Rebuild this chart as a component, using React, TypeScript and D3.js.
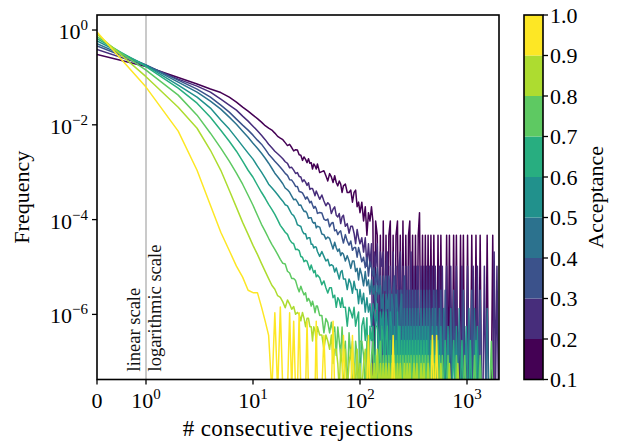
import React from "react";
import * as d3 from "d3";

// Acceptance level of each simulated chain (one histogram per level)
const acceptance = [0.1, 0.2, 0.3, 0.4, 0.5, 0.6, 0.7, 0.8, 0.9];
// Number of rejection runs recorded for each acceptance level (normalisation)
const runsPerLevel = [21400, 96900, 311000, 748000, 1790000, 3550000, 7360000, 10900000, 2780000];

// Run-length bins (# consecutive rejections) at which the histograms are sampled
const rejectionBins = [
  0, 1, 2, 3, 4, 5, 6, 7, 8, 9, 10, 11, 12, 13, 14, 15, 16, 17, 18, 19,
  20, 21, 22, 23, 24, 25, 26, 27, 28, 29, 30, 31, 32, 33, 34, 35, 36, 37, 38, 39, 40,
  42, 44, 46, 48, 50, 52, 54, 56, 58, 60, 62, 64, 66, 68, 70,
  73, 76, 79, 82, 85, 88, 91, 94, 97, 100,
  104, 108, 112, 116, 120, 124, 128, 132, 136, 140,
  145, 150, 155, 160, 165, 170, 175, 180,
  186, 192, 198, 204, 210,
  217, 224, 231, 238, 245, 252,
  260, 268, 276, 284, 292, 300,
  310, 320, 330, 340, 350, 360,
  372, 384, 396, 408, 420,
  433, 446, 460, 475, 490, 505, 520,
  536, 552, 570, 588, 606, 625, 645, 665, 685, 705,
  727, 750, 773, 796, 820, 845, 870, 897, 925, 953, 982,
  1012, 1043, 1075, 1108, 1142, 1177, 1213, 1250, 1288, 1327, 1368, 1410, 1453, 1497,
  1543, 1590, 1638, 1688, 1740, 1793, 1848, 1905, 1963,
];

// Run counts per bin, one array per acceptance level
const counts01 = [
  6510, 3631, 2127, 1549, 1215, 1025, 823, 646, 506, 417, 343, 289, 244, 205, 182, 166, 143, 122, 112, 104,
  90, 78, 83, 71, 60, 64, 63, 50, 49, 38, 45, 40, 34, 41, 33, 34, 25, 32, 29, 25, 32,
  21, 22, 23, 18, 14, 20, 17, 13, 18, 13, 11, 14, 12, 8, 11,
  12, 8, 8, 9, 5, 8, 9, 4, 5, 3,
  5, 2, 4, 1, 3, 2, 4, 2, 0, 2,
  1, 0, 1, 0, 2, 0, 1, 0,
  1, 2, 0, 1, 0,
  1, 2, 0, 1, 0, 2,
  0, 1, 0, 1, 2, 0,
  1, 0, 1, 0, 1, 3,
  0, 1, 0, 1, 0,
  1, 0, 1, 0, 1, 0, 0,
  1, 0, 1, 0, 0, 0, 1, 0, 1, 0,
  0, 1, 0, 1, 0, 0, 1, 0, 1, 0, 0,
  1, 0, 0, 1, 0, 0, 1, 0, 0, 1, 0, 0, 0, 0,
  1, 0, 0, 0, 1, 0,
];
const counts02 = [
  37500, 17200, 8930, 6350, 4750, 3375, 2521, 1977, 1476, 1158, 907, 729, 586, 471, 378, 319, 269, 238, 211, 187,
  161, 149, 120, 123, 107, 91, 95, 79, 77, 61, 67, 60, 51, 58, 42, 44, 44, 37, 31, 39, 34,
  26, 32, 24, 19, 22, 20, 13, 16, 18, 12, 11, 13, 8, 11, 12,
  7, 8, 5, 7, 7, 5, 3, 6, 4, 3,
  4, 2, 4, 1, 3, 1, 3, 0, 2, 1,
  3, 0, 2, 1, 2, 0, 1, 2,
  0, 1, 0, 2, 0,
  1, 0, 1, 2, 0, 1,
  0, 1, 0, 1, 0, 2,
  0, 1, 0, 1, 1, 0,
  1, 0, 1, 0, 1,
  0, 1, 0, 1, 0, 1, 0,
  0, 1, 0, 1, 0, 0, 1, 0, 0, 1,
  0, 0, 0, 1, 0, 0, 0, 1, 0, 0, 0,
  1, 0, 0, 0, 1, 0, 0, 1, 0, 0, 0, 0, 1, 0,
  0, 0, 0, 0, 0, 2, 0, 1, 0,
];
const counts03 = [
  142900, 56750, 27350, 17650, 11960, 8105, 5765, 4103, 3063, 2400, 1884, 1476, 1215, 953, 747, 630, 531, 459, 397, 343,
  294, 267, 216, 212, 185, 156, 156, 122, 119, 114, 99, 84, 94, 82, 70, 76, 63, 54, 59, 53, 42,
  44, 43, 32, 30, 32, 22, 26, 27, 18, 19, 15, 17, 18, 13, 10,
  15, 11, 9, 11, 7, 8, 8, 5, 8, 6,
  4, 5, 3, 5, 2, 4, 3, 2, 3, 1,
  3, 1, 2, 0, 2, 1, 2, 0,
  2, 1, 0, 1, 2,
  0, 1, 0, 1, 1, 0,
  2, 0, 1, 0, 1, 0,
  1, 0, 1, 0, 1, 0,
  1, 0, 1, 0, 1,
  0, 1, 0, 0, 1, 0, 1,
  0, 0, 1, 0, 0, 1, 0, 0, 0, 0,
  0, 1, 0, 0, 0, 0, 0, 0, 1, 0, 0,
  0, 0, 0, 1, 0, 0, 0, 0, 0, 1, 0,
];
const counts04 = [
  387300, 136200, 59570, 36600, 23640, 16010, 10850, 7719, 5492, 4103, 3063, 2400, 1884, 1476, 1158, 907, 712, 600, 506, 427,
  347, 318, 282, 235, 197, 202, 177, 150, 152, 127, 111, 112, 101, 80, 82, 82, 67, 63, 65, 50, 54,
  52, 37, 36, 29, 32, 30, 23, 18, 25, 19, 16, 18, 13, 15, 14,
  10, 13, 10, 7, 10, 10, 6, 7, 4, 7,
  5, 3, 6, 3, 4, 2, 4, 2, 3, 1,
  3, 2, 3, 1, 2, 0, 2, 1,
  2, 0, 2, 1, 0,
  2, 1, 0, 1, 2, 0,
  1, 0, 1, 0, 1, 0,
  1, 0, 1, 0, 1, 0,
  1, 0, 1, 0, 1,
  0, 1, 0, 1, 0, 1, 0,
  0, 1, 0, 0, 1, 0, 0, 0, 0, 1,
  0, 0, 0, 0, 0, 1, 0, 0, 0, 0, 0,
  0, 1, 0, 0, 0, 1, 0, 0, 0, 0, 0, 0, 0, 0,
  1, 0,
];
const counts05 = [
  1051000, 319000, 123600, 68900, 40360, 22510, 14530, 9376, 6353, 4520, 3377, 2400, 1793, 1340, 1001, 844, 712, 600, 506, 438,
  368, 348, 285, 235, 217, 182, 139, 134, 128, 101, 90, 90, 70, 74, 74, 54, 54, 45, 48, 47, 38,
  30, 38, 30, 24, 26, 19, 20, 19, 14, 17, 13, 10, 14, 15, 10,
  10, 6, 10, 8, 5, 9, 6, 6, 3, 6,
  3, 5, 2, 4, 2, 3, 1, 3, 2, 1,
  3, 0, 2, 1, 2, 0, 2, 1,
  0, 2, 1, 0, 1,
  0, 2, 0, 1, 0, 1,
  0, 1, 0, 1, 0, 1,
  0, 1, 0, 1, 0, 1,
  0, 1, 0, 1, 0,
  1, 0, 0, 1, 0, 0, 1,
  0, 0, 1, 0, 0, 0, 0, 1, 0, 0,
  0, 0, 0, 1, 0, 0, 0, 0, 0, 0, 1,
  0, 0, 0, 0, 0, 0, 0, 1, 0,
];
const counts06 = [
  2344000, 600300, 211000, 101700, 51450, 27350, 16010, 9844, 6053, 3906, 2779, 1884, 1340, 1001, 747, 586, 459, 351, 269, 227,
  192, 173, 134, 116, 110, 83, 84, 79, 59, 57, 46, 49, 47, 38, 31, 39, 32, 27, 30, 22, 24,
  21, 15, 18, 13, 10, 13, 13, 8, 9, 5, 8, 7, 5, 8, 5,
  5, 2, 5, 4, 3, 5, 2, 3, 4, 0,
  2, 3, 1, 3, 0, 2, 1, 2, 0, 2,
  2, 1, 0, 2, 1, 0, 1, 2,
  0, 1, 0, 1, 0,
  1, 0, 2, 0, 1, 0,
  1, 0, 1, 0, 1, 0,
  1, 0, 1, 0, 1, 0,
  1, 0, 1, 0, 1,
  0, 0, 1, 0, 1, 0, 0,
  1, 0, 0, 0, 0, 1, 0, 0, 0, 0,
  0, 1, 0, 0, 0, 0, 0, 1, 0, 0, 0,
  0, 0, 1, 0, 0, 0, 1, 0,
];
const counts07 = [
  5360000, 1051000, 311300, 117700, 49020, 23640, 12560, 7004, 4103, 2400, 1476, 907, 586, 417, 297, 221, 174, 136, 107, 88,
  85, 60, 55, 42, 42, 38, 28, 22, 29, 23, 19, 21, 14, 16, 14, 11, 14, 11, 8, 11, 11,
  7, 7, 3, 6, 5, 3, 5, 3, 4, 1, 4, 2, 1, 4, 1,
  2, 0, 3, 1, 2, 0, 2, 1, 0, 2,
  2, 1, 0, 2, 1, 0, 1, 2, 0, 1,
  0, 1, 2, 0, 1, 0, 1, 0,
  1, 0, 1, 0, 1,
  0, 1, 0, 1, 0, 1,
  0, 1, 0, 1, 0, 1,
  0, 1, 0, 1, 0, 1,
  0, 1, 0, 1, 0,
  1, 0, 1, 0, 0, 1, 0,
  0, 1, 0, 1, 0, 0, 0, 1, 0, 0,
  0, 0, 0, 1, 0, 0, 0, 0, 0, 1, 0,
  0, 0, 0, 0, 0, 1, 0, 0, 0, 1, 0, 0, 0, 0,
  0, 0, 0, 2, 0,
];
const counts08 = [
  8930000, 1130000, 256300, 92260, 31640, 11960, 4520, 1977, 953, 531, 311, 201, 130, 88, 62, 45, 37, 27, 25, 20,
  15, 22, 18, 14, 16, 11, 12, 11, 8, 12, 9, 6, 9, 9, 6, 6, 3, 6, 5, 3, 6,
  4, 4, 2, 4, 3, 2, 4, 1, 2, 2, 1, 0, 2, 1, 0,
  2, 0, 1, 2, 0, 1, 0, 2, 0, 1,
  0, 1, 2, 0, 1, 0, 1, 0, 1, 0,
  2, 0, 1, 0, 1, 0, 1, 0,
  1, 0, 1, 0, 1,
  0, 1, 0, 1, 0, 0,
  1, 0, 1, 0, 1, 0,
  0, 1, 0, 1, 0, 0,
  1, 0, 1, 0, 0,
  1, 0, 0, 0, 1, 0, 0,
  0, 0, 1, 0, 0, 0, 0, 0, 1, 0,
  0, 0, 0, 0, 1, 0, 0,
];
const counts09 = [
  2520000, 173700, 20420, 3063, 558, 150, 62, 29, 17, 9, 8, 8, 4, 2, 1, 0, 3, 0, 4, 0,
  0, 0, 3, 0, 2, 0, 0, 3, 0, 0, 0, 0, 2, 0, 0, 0, 0, 0, 0, 2, 0,
  0, 0, 1, 0, 0, 0, 0, 2, 0, 0, 0, 0, 0, 0, 1,
  0, 0, 0, 0, 1, 0, 0, 0, 0, 0,
  0, 0, 0, 0, 1, 0, 0, 0, 0, 0,
  0, 0, 0, 0, 0, 0, 0, 0,
  0, 0, 0, 1, 0,
  0, 0, 0, 0, 0, 0,
  0, 0, 0, 0, 0, 0,
  0, 0, 0, 0, 0, 0,
  0, 0, 0, 0, 0,
  0, 0, 0, 1, 0, 0, 1,
  0,
];

const xTicks = [0, 1, 10, 100, 1000];
const yTickExponents = [0, -2, -4, -6];
const colorbarTicks = [0.1, 0.2, 0.3, 0.4, 0.5, 0.6, 0.7, 0.8, 0.9, 1.0];

const WIDTH = 620;
const HEIGHT = 441;
const FONT = "'Liberation Serif', 'DejaVu Serif', serif";
const area = { left: 97, right: 499, top: 15, bottom: 379.5 };
const LINEAR_END = 146; // where the linear [0, 1] segment hands over to the log axis
const CB = { left: 524, right: 543 };

export default function App() {
  const series = [counts01, counts02, counts03, counts04, counts05, counts06, counts07, counts08, counts09];

  const xLin = d3.scaleLinear().domain([0, 1]).range([area.left, LINEAR_END]);
  const xLog = d3.scaleLog().domain([1, 1991]).range([LINEAR_END, area.right]);
  const xPos = (v: number) => (v <= 1 ? xLin(v) : xLog(v));
  const y = d3.scaleLog().domain([4.23e-8, 2.075]).range([area.bottom, area.top]);
  const emptyBinY = area.bottom + 12; // zero counts fall below the axis and get clipped

  const levelColor = (i: number) => d3.interpolateViridis(i / (acceptance.length - 1));
  const line = d3.line<[number, number]>().x((d) => d[0]).y((d) => d[1]);

  const cbScale = d3.scaleLinear().domain([0.1, 1.0]).range([area.bottom, area.top]);
  const bands = d3.range(acceptance.length).map((i) => ({
    lo: colorbarTicks[i],
    hi: colorbarTicks[i + 1],
    color: levelColor(i),
  }));

  const tickFont = 22;
  const supFont = 15;

  return (
    <svg
      width={WIDTH}
      height={HEIGHT}
      style={{ position: "absolute", left: 0, top: 0, background: "#fff" }}
      fontFamily={FONT}
    >
      <defs>
        <clipPath id="plot-area">
          <rect x={area.left} y={area.top} width={area.right - area.left} height={area.bottom - area.top} />
        </clipPath>
      </defs>

      {/* boundary between the linear and logarithmic parts of the x axis */}
      <line x1={xPos(1)} x2={xPos(1)} y1={area.top} y2={area.bottom} stroke="#b8b8b8" strokeWidth={1.5} />
      <text
        transform={`translate(${xPos(1) - 6},${area.bottom - 8}) rotate(-90)`}
        fontSize={18.5}
        textAnchor="start"
        fill="#111"
      >
        linear scale
      </text>
      <text
        transform={`translate(${xPos(1) + 15},${area.bottom - 8}) rotate(-90)`}
        fontSize={18.5}
        textAnchor="start"
        fill="#111"
      >
        logarithmic scale
      </text>

      <g clipPath="url(#plot-area)">
        {series.map((counts, i) => {
          const pts: [number, number][] = counts.map((c, k) => [
            xPos(rejectionBins[k]),
            c > 0 ? y(c / runsPerLevel[i]) : emptyBinY,
          ]);
          return (
            <path
              key={acceptance[i]}
              d={line(pts) ?? ""}
              fill="none"
              stroke={levelColor(i)}
              strokeWidth={1.5}
              strokeLinejoin="round"
            />
          );
        })}
      </g>

      {/* axes frame */}
      <rect
        x={area.left}
        y={area.top}
        width={area.right - area.left}
        height={area.bottom - area.top}
        fill="none"
        stroke="#000"
        strokeWidth={1.6}
      />

      {/* x ticks */}
      {xTicks.map((v) => (
        <g key={`x${v}`}>
          <line x1={xPos(v)} x2={xPos(v)} y1={area.bottom} y2={area.bottom + 5} stroke="#000" strokeWidth={1.3} />
          {v === 0 ? (
            <text x={xPos(v)} y={408} fontSize={tickFont} textAnchor="middle">
              0
            </text>
          ) : (
            <text x={xPos(v)} y={408} fontSize={tickFont} textAnchor="middle">
              10
              <tspan fontSize={supFont} dy={-9}>
                {Math.round(Math.log10(v))}
              </tspan>
            </text>
          )}
        </g>
      ))}

      {/* y ticks */}
      {yTickExponents.map((e) => {
        const ty = y(Math.pow(10, e));
        return (
          <g key={`y${e}`}>
            <line x1={area.left - 5} x2={area.left} y1={ty} y2={ty} stroke="#000" strokeWidth={1.3} />
            <text x={88} y={ty + 9} fontSize={tickFont} textAnchor="end">
              10
              <tspan fontSize={supFont} dy={-9}>
                {e === 0 ? "0" : `\u2212${Math.abs(e)}`}
              </tspan>
            </text>
          </g>
        );
      })}

      <text
        x={(area.left + area.right) / 2}
        y={436}
        fontSize={23}
        letterSpacing={0.4}
        textAnchor="middle"
      >
        # consecutive rejections
      </text>
      <text transform={`translate(29,${(area.top + area.bottom) / 2}) rotate(-90)`} fontSize={22} textAnchor="middle">
        Frequency
      </text>

      {/* colour bar */}
      {bands.map((b) => (
        <rect
          key={b.lo}
          x={CB.left}
          y={cbScale(b.hi)}
          width={CB.right - CB.left}
          height={cbScale(b.lo) - cbScale(b.hi)}
          fill={b.color}
        />
      ))}
      <rect
        x={CB.left}
        y={area.top}
        width={CB.right - CB.left}
        height={area.bottom - area.top}
        fill="none"
        stroke="#000"
        strokeWidth={1.6}
      />
      {colorbarTicks.map((t) => (
        <g key={`c${t}`}>
          <line x1={CB.right} x2={CB.right + 5} y1={cbScale(t)} y2={cbScale(t)} stroke="#000" strokeWidth={1.3} />
          <text x={CB.right + 7} y={cbScale(t) + 7.5} fontSize={tickFont} textAnchor="start">
            {t.toFixed(1)}
          </text>
        </g>
      ))}
      <text transform={`translate(603,${(area.top + area.bottom) / 2}) rotate(-90)`} fontSize={22} textAnchor="middle">
        Acceptance
      </text>
    </svg>
  );
}
